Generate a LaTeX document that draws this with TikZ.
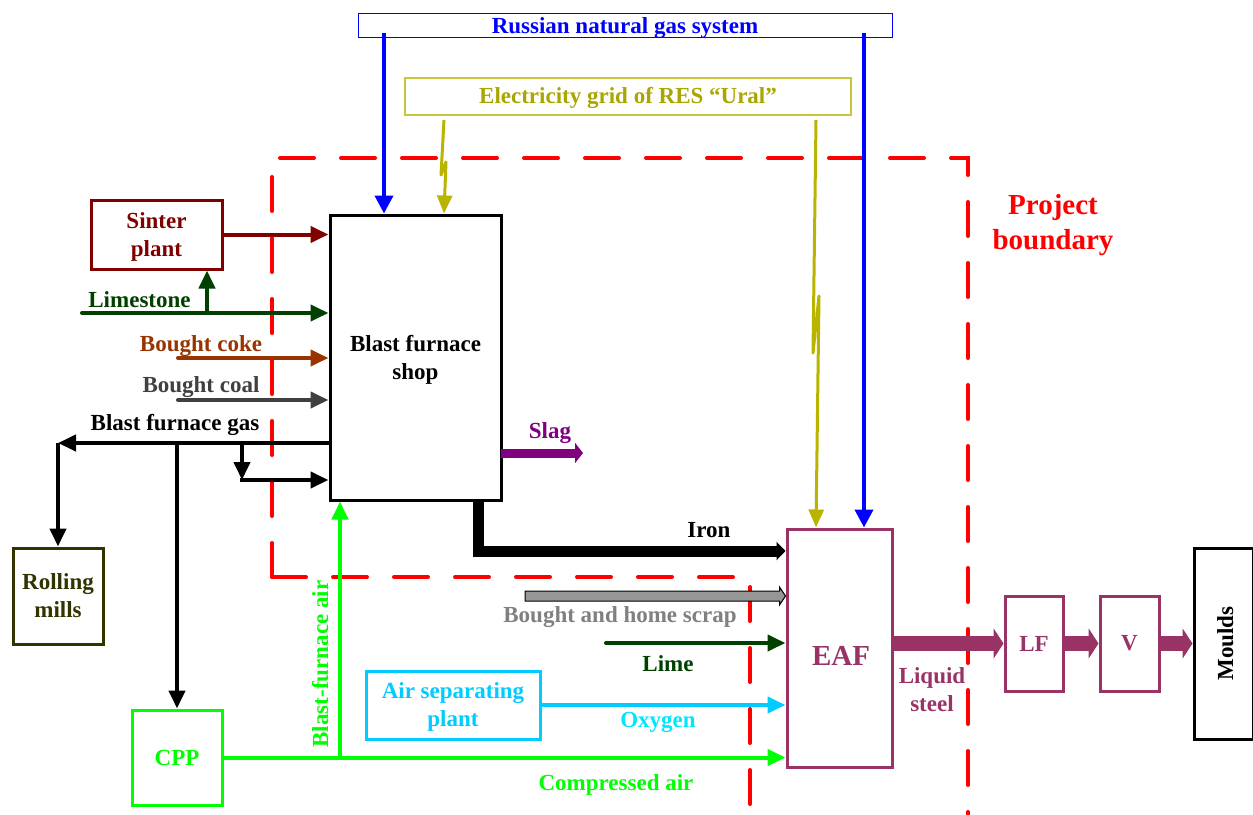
\documentclass[tikz,border=0pt]{standalone}
\usepackage{fontspec}
\setmainfont{Liberation Serif}
\usetikzlibrary{arrows.meta,calc}
\definecolor{gasblue}{RGB}{0,0,255}
\definecolor{elecline}{RGB}{184,180,0}
\definecolor{elecbox}{RGB}{200,196,60}
\definecolor{electxt}{RGB}{170,166,0}
\definecolor{pbred}{RGB}{255,0,0}
\definecolor{sinterc}{RGB}{128,0,0}
\definecolor{limec}{RGB}{0,64,0}
\definecolor{cokec}{RGB}{153,51,0}
\definecolor{coalc}{RGB}{64,64,64}
\definecolor{slagc}{RGB}{128,0,128}
\definecolor{eafc}{RGB}{153,51,102}
\definecolor{scrapc}{RGB}{150,150,150}
\definecolor{scraptxt}{RGB}{128,128,128}
\definecolor{aspc}{RGB}{0,204,255}
\definecolor{oxc}{RGB}{0,230,255}
\definecolor{airg}{RGB}{0,255,0}
\definecolor{rollc}{RGB}{51,51,0}
\begin{document}
\begin{tikzpicture}[x=1pt,y=-1pt,
  font=\bfseries\fontsize{23}{28}\selectfont,
  box/.style={draw, line width=3pt, inner sep=0pt, align=center},
  lbl/.style={anchor=base, inner sep=0pt},
  flow/.style={line width=4pt, -{Triangle[length=18pt,width=16pt]}},
  thin flow/.style={line width=3pt, -{Triangle[length=18pt,width=15pt]}},
  steelflow/.style={line width=15pt, eafc, -{Triangle[length=10pt,width=30pt]}},
  pb/.style={pbred, line width=4pt, line cap=round, dash pattern=on 34pt off 27pt}]
\useasboundingbox (0,0) rectangle (1253,814);

% ---------- boxes ----------
\node[draw=gasblue, line width=1pt, inner sep=0pt, minimum width=534pt, minimum height=24pt] (gas) at (625,25) {};
\node[lbl, gasblue] (gastxt) at (625,33) {Russian natural gas system};
\node[draw=elecbox, line width=1.3pt, inner sep=0pt, minimum width=446pt, minimum height=37pt] (elec) at (628,96.5) {};
\node[lbl, electxt] (electxt) at (628,103.5) {Electricity grid of RES “Ural”};

\node[box, minimum width=171pt, minimum height=285pt] (bf) at (415.5,357.5) {};
\node[align=center, inner sep=0pt] (bftxt) at (415.5,360) {Blast furnace\\shop};
\node[box, sinterc, minimum width=131pt, minimum height=69pt] (sinter) at (156.5,234.5) {};
\node[align=center, inner sep=0pt, sinterc] (sintertxt) at (156.5,236.5) {Sinter\\plant};
\node[box, rollc, minimum width=90pt, minimum height=96pt] (roll) at (58,596) {};
\node[align=center, inner sep=0pt, rollc] (rolltxt) at (58,596) {Rolling\\mills};
\node[box, airg, minimum width=90pt, minimum height=95pt] (cpp) at (177,757.5) {CPP};
\node[box, aspc, minimum width=174pt, minimum height=68pt] (asp) at (453,705) {};
\node[align=center, inner sep=0pt, aspc] (asptxt) at (453,707) {Air separating\\plant};
\node[box, eafc, minimum width=105pt, minimum height=238pt] (eaf) at (839.5,648) {};
\node[lbl, eafc, font=\bfseries\fontsize{29}{34}\selectfont] (eaftxt) at (841,665.5) {EAF};
\node[box, eafc, minimum width=58pt, minimum height=95pt] (lf) at (1034,643.5) {LF};
\node[box, eafc, minimum width=59pt, minimum height=95pt] (v) at (1129.5,643.5) {V};
\node[box, black, minimum width=59pt, minimum height=191pt] (moulds) at (1223.5,643.5) {};
\node[lbl, rotate=90] (mouldstxt) at (1233,643.5) {Moulds};

% ---------- project boundary ----------
\draw[pb] (272,577) -- (272,158) -- (968,158) -- (968,814);
\draw[pb] (272,577) -- (750,577) -- (750,814);
\node[pbred, align=center, inner sep=0pt, font=\bfseries\fontsize{29}{35}\selectfont] (pbtxt) at (1053,225) {Project\\boundary};

% ---------- gas and electricity ----------
\coordinate (gb1) at (384,33);
\coordinate (gb2) at (864,33);
\draw[flow, gasblue, -{Triangle[length=18pt,width=18pt]}] (gb1) -- (gb1 |- bf.north);
\draw[flow, gasblue, -{Triangle[length=18pt,width=18pt]}] (gb2) -- (gb2 |- eaf.north);
\coordinate (e1) at (444,120);
\coordinate (e2) at (816,120);
\draw[thin flow, elecline, line join=round] (e1) -- (441,175) -- (446,162) -- (e1 |- bf.north);
\draw[thin flow, elecline, line join=round] (e2) -- (813,353) -- (819,296) -- (e2 |- eaf.north);

% ---------- inputs to blast furnace ----------
\draw[flow, sinterc] (sinter.east) -- (sinter.east -| bf.west);
\coordinate (ls) at (82,313);
\coordinate (lsb) at (207,313);
\draw[flow, limec, line cap=round] (ls) -- (ls -| bf.west);
\draw[flow, limec] (lsb) -- (lsb |- sinter.south);
\node[lbl, limec] (lstxt) at (139.5,307) {Limestone};
\coordinate (ck) at (178,358);
\draw[flow, cokec, line cap=round] (ck) -- (ck -| bf.west);
\node[lbl, cokec] (cktxt) at (201,351.5) {Bought coke};
\coordinate (cl) at (178,400);
\draw[flow, coalc, line cap=round] (cl) -- (cl -| bf.west);
\node[lbl, coalc] (cltxt) at (201,392.5) {Bought coal};

% ---------- blast furnace gas ----------
\coordinate (g0) at (330,443);
\coordinate (gL) at (58,443);
\coordinate (g1) at (177,443);
\coordinate (g2) at (242,443);
\coordinate (g3) at (242,480);
\draw[flow, black] (g0) -- (gL);
\draw[flow, black] (gL) -- (gL |- roll.north);
\draw[flow, black] (g1) -- (cpp.north);
\draw[flow, black] (g2) -- (g3);
\draw[flow, black] ($(g3)+(-2,0)$) -- (g3 -| bf.west);
\node[lbl, black] (bfgtxt) at (175,430) {Blast furnace gas};

% ---------- air ----------
\draw[flow, airg] (cpp.east) -- (cpp.east -| eaf.west);
\node[lbl, airg] (catxt) at (616,790.5) {Compressed air};
\coordinate (ca) at (340,757.5);
\draw[flow, airg] (ca) -- (ca |- bf.south);
\node[lbl, airg, rotate=90] (bfatxt) at (328,664) {Blast-furnace air};

% ---------- slag and iron ----------
\coordinate (sl) at (501,453);
\coordinate (sle) at (583,453);
\draw[line width=9pt, slagc, -{Triangle[length=8pt,width=20pt]}] (sl) -- (sle);
\node[lbl, slagc] (sltxt) at (550,438) {Slag};
\coordinate (ir) at (478,500);
\coordinate (irc) at (478,551);
\draw[line width=11pt, black, line join=miter, -{Triangle[length=9pt,width=18pt]}] (ir) -- (irc) -- (irc -| eaf.west);
\node[lbl, black] (irtxt) at (709,537) {Iron};

% ---------- scrap, lime, oxygen ----------
\coordinate (sc) at (525,596);
\coordinate (sce) at (sc -| eaf.west);
\filldraw[fill=scrapc, draw=black, line width=1pt]
  ($(sc)+(0,-5)$) -- ($(sce)+(-6,-5)$) -- ($(sce)+(-6,-9)$) -- (sce) --
  ($(sce)+(-6,9)$) -- ($(sce)+(-6,5)$) -- ($(sc)+(0,5)$) -- cycle;
\node[lbl, scraptxt] (sctxt) at (620,622.5) {Bought and home scrap};
\coordinate (lm) at (606,643);
\draw[flow, limec, line cap=round] (lm) -- (lm -| eaf.west);
\node[lbl, limec] (lmtxt) at (668,671.5) {Lime};
\draw[flow, aspc] (asp.east) -- (asp.east -| eaf.west);
\node[lbl, oxc] (oxtxt) at (658,727.5) {Oxygen};

% ---------- liquid steel ----------
\draw[steelflow] (eaf.east |- lf.west) -- (lf.west);
\draw[steelflow] (lf.east) -- (v.west);
\draw[steelflow] (v.east) -- (moulds.west);
\node[eafc, align=center, inner sep=0pt] (lstxt2) at (932,690) {Liquid\\steel};
\end{tikzpicture}
\end{document}
